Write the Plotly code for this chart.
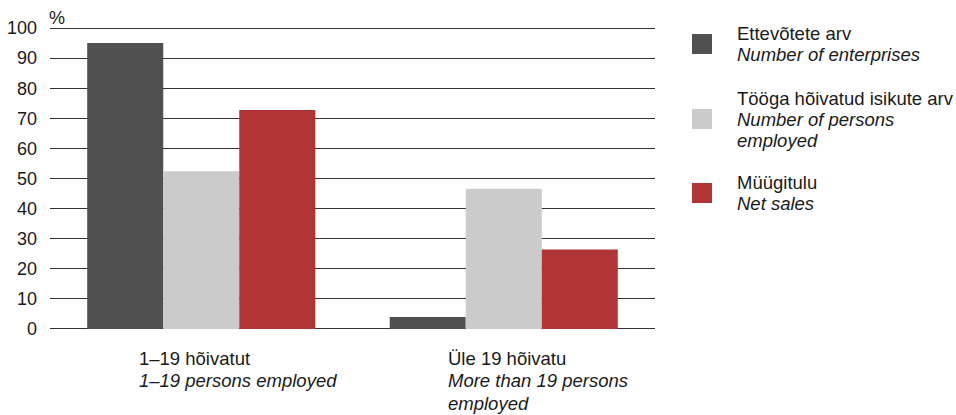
import plotly.graph_objects as go

cat_keys = ["g1", "g2"]
category_lines = [["1–19 hõivatut", "<i>1–19 persons employed</i>"],
                  ["Üle 19 hõivatu", "<i>More than 19 persons</i>", "<i>employed</i>"]]
series_names = ["Ettevõtete arv", "Tööga hõivatud isikute arv", "Müügitulu"]
legend_lines = [["Ettevõtete arv", "<i>Number of enterprises</i>"],
                ["Tööga hõivatud isikute arv", "<i>Number of persons</i>", "<i>employed</i>"],
                ["Müügitulu", "<i>Net sales</i>"]]
enterprises = [95.0, 4.0]
persons = [52.4, 46.6]
sales = [72.8, 26.4]
y_ticks = [0, 10, 20, 30, 40, 50, 60, 70, 80, 90, 100]
colors = ["#505050", "#cbcbcb", "#b23536"]

FONT = "Liberation Sans, Arial, sans-serif"
FS = 18.5
TFS = 18
TXT = "#1a1a1a"

fig = go.Figure()
for name, vals, col in zip(series_names, [enterprises, persons, sales], colors):
    fig.add_trace(go.Bar(x=cat_keys, y=vals, name=name, marker=dict(color=col, line=dict(width=0)),
                         showlegend=False, hoverinfo="y"))

W, H = 956, 415
L = 50
pw = 605
# plot area padded by 1 unit above 100 and below 0 so edge gridlines are drawn
T, ph = 25, 307
R, B = W - L - pw, H - T - ph
Y0, Y1 = -1, 101

def px(sx):
    return (sx - L) / pw

def py(sy):
    return (T + ph - sy) / ph

shapes = []
annotations = []
# legend
leg_y = [44, 119, 193]
line_step = 21
for lines, col, cy in zip(legend_lines, colors, leg_y):
    shapes.append(dict(type="rect", xref="paper", yref="paper",
                       x0=px(692), x1=px(712), y0=py(cy + 10), y1=py(cy - 10),
                       fillcolor=col, line=dict(width=0)))
    n = len(lines)
    first = cy - (n - 1) * line_step / 2
    for i, ln in enumerate(lines):
        annotations.append(dict(xref="paper", yref="paper", x=px(735), y=py(first + i * line_step),
                                xanchor="left", yanchor="middle", align="left",
                                text=ln, showarrow=False,
                                font=dict(family=FONT, size=FS, color=TXT)))

# category labels
cat_first = 358
for key, lines, shift in zip(cat_keys, category_lines, [-64, -58]):
    for i, ln in enumerate(lines):
        annotations.append(dict(xref="x", yref="paper", x=key, y=py(cat_first + i * 22.5),
                                xshift=shift, xanchor="left", yanchor="middle", align="left",
                                text=ln, showarrow=False,
                                font=dict(family=FONT, size=FS, color=TXT)))

annotations.append(dict(xref="paper", yref="paper", x=px(47), y=py(18), xanchor="left",
                        yanchor="middle", text="%", showarrow=False,
                        font=dict(family=FONT, size=TFS, color=TXT)))

fig.update_layout(
    width=W, height=H,
    margin=dict(l=L, r=R, t=T, b=B, pad=0, autoexpand=False),
    paper_bgcolor="white", plot_bgcolor="white",
    barmode="group", bargap=0.246, bargroupgap=0,
    font=dict(family=FONT, size=FS, color=TXT),
    xaxis=dict(showticklabels=False, showgrid=False, zeroline=False, showline=False,
               automargin=False, categoryorder="array", categoryarray=cat_keys),
    yaxis=dict(range=[Y0, Y1], tickvals=y_ticks, showgrid=True, gridcolor="#333333",
               gridwidth=1, zeroline=False, showline=False, ticks="", automargin=False,
               ticklabelstandoff=12, tickfont=dict(family=FONT, size=TFS, color=TXT)),
    shapes=shapes, annotations=annotations,
)

fig.write_html("out.html", config={"displayModeBar": False},
               post_script="document.body.style.margin='0';document.body.style.overflow='hidden';")
